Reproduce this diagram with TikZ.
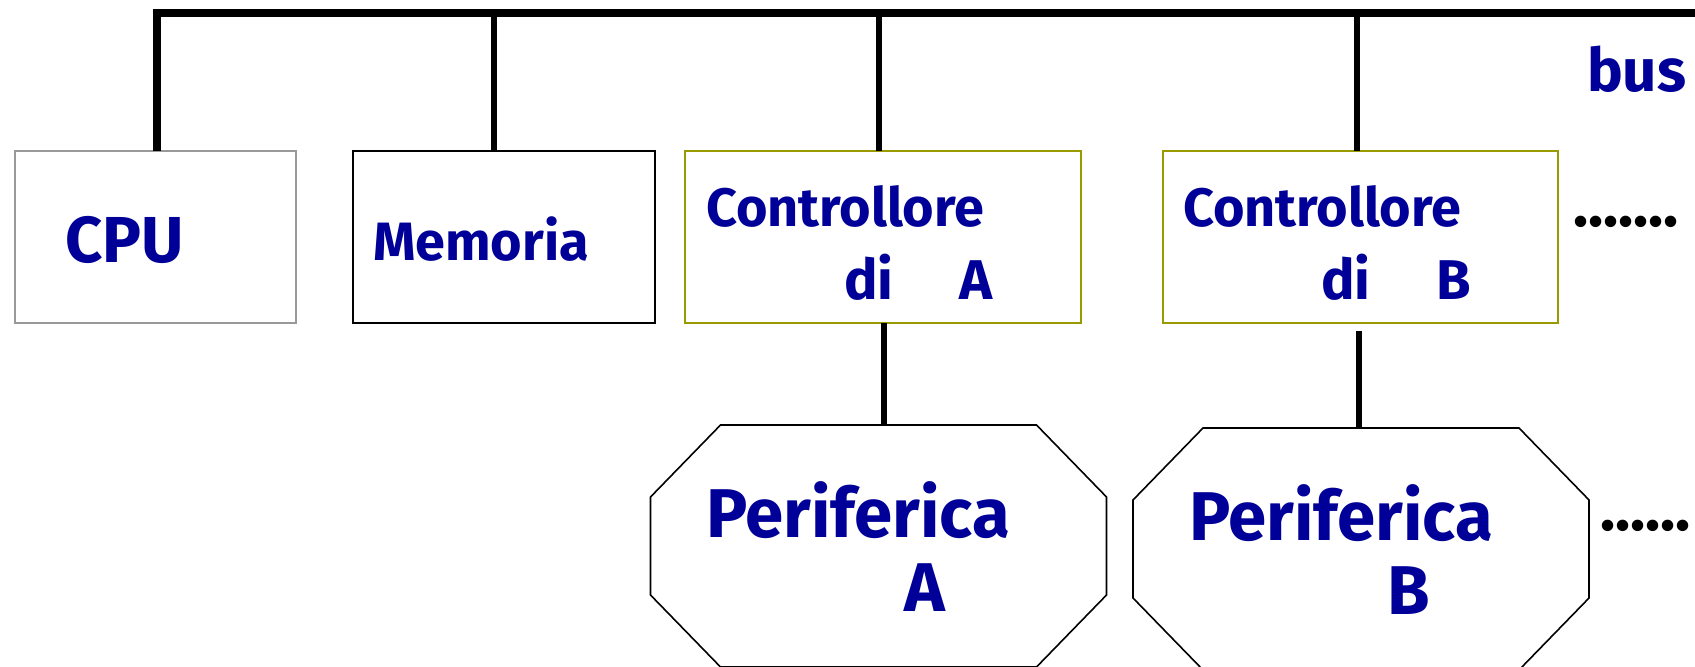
\documentclass[tikz,border=0pt]{standalone}
\usepackage{fontspec}
\setmainfont{Fira Sans}
\definecolor{txtblue}{HTML}{000099}
\definecolor{olivebox}{HTML}{999900}
\definecolor{graybox}{HTML}{999999}
\newcommand\octpath[1]{%
  \draw[octline] ([xshift=35pt]#1.north west) -- ([xshift=-35pt]#1.north east)
    -- ([yshift=-36pt]#1.north east) -- ([yshift=36pt]#1.south east)
    -- ([xshift=-35pt]#1.south east) -- ([xshift=35pt]#1.south west)
    -- ([yshift=36pt]#1.south west) -- ([yshift=-36pt]#1.north west) -- cycle;}
\begin{document}
\begin{tikzpicture}[x=0.5pt,y=0.5pt,
  box/.style={draw, line width=1pt, inner sep=0pt, outer sep=0pt, anchor=north west, minimum height=86pt},
  octarea/.style={inner sep=0pt, outer sep=0pt, minimum width=228pt, minimum height=121pt},
  octline/.style={draw=black, line width=0.8pt},
  busline/.style={line width=3.6pt, line join=miter},
  dropline/.style={line width=3.2pt},
  lbl/.style={text=txtblue, anchor=base west, inner sep=0pt, outer sep=0pt},
  dots/.style={text=black, anchor=base west, inner sep=0pt, outer sep=0pt, font=\fontsize{31.5pt}{32pt}\selectfont\bfseries}]
\useasboundingbox (0,0) rectangle (1695,-667);
% boxes
\node[box, draw=graybox, minimum width=140.5pt] (cpu) at (15,-151) {};
\node[box, draw=black, minimum width=151pt] (mem) at (353,-151) {};
\node[box, draw=olivebox, minimum width=198pt] (ctrlA) at (685,-151) {};
\node[box, draw=olivebox, minimum width=197.5pt] (ctrlB) at (1163,-151) {};
% peripherals
\node[octarea] (perA) at (878.5,-546) {};
\node[octarea] (perB) at (1361,-549) {};
\octpath{perA}
\octpath{perB}
% bus
\coordinate (busL) at (157,-13);
\coordinate (busR) at (1695,-13);
\draw[busline] (157,0 |- cpu.north) -- (busL) -- (busR);
\draw[dropline] (494,0 |- mem.north) -- (494,0 |- busL);
\draw[dropline] (879,0 |- ctrlA.north) -- (879,0 |- busL);
\draw[dropline] (1357,0 |- ctrlB.north) -- (1357,0 |- busL);
\draw[dropline] (884,0 |- ctrlA.south) -- (884,0 |- perA.north);
\draw[dropline, shorten <=4pt] (1359,0 |- ctrlB.south) -- (1359,0 |- perB.north);
% labels
\node[lbl, font=\fontsize{32.5pt}{34pt}\selectfont\bfseries] (tcpu) at (65,-263) {CPU};
\node[lbl, font=\fontsize{27pt}{28pt}\selectfont\bfseries] (tmem) at (373,-261) {Memoria};
\node[lbl, font=\fontsize{27pt}{28pt}\selectfont\bfseries] (tca1) at (706,-227) {Controllore};
\node[lbl, font=\fontsize{28pt}{28pt}\selectfont\bfseries] (tca2) at (844,-300) {di\hspace{33pt}A};
\node[lbl, font=\fontsize{27pt}{28pt}\selectfont\bfseries] (tcb1) at (1183,-227) {Controllore};
\node[lbl, font=\fontsize{28pt}{28pt}\selectfont\bfseries] (tcb2) at (1321,-300) {di\hspace{33pt}B};
\node[lbl, font=\fontsize{34.5pt}{36pt}\selectfont\bfseries] (tpa1) at (706,-537) {Periferica};
\node[lbl, font=\fontsize{34.5pt}{36pt}\selectfont\bfseries] (tpa2) at (904,-611) {A};
\node[lbl, font=\fontsize{34.5pt}{36pt}\selectfont\bfseries] (tpb1) at (1189,-540) {Periferica};
\node[lbl, font=\fontsize{34.5pt}{36pt}\selectfont\bfseries] (tpb2) at (1387,-614) {B};
\node[lbl, font=\fontsize{30pt}{32pt}\selectfont\bfseries] (tbus) at (1587,-92) {bus};
\node[dots] (dots1) at (1573,-227) {.......};
\node[dots] (dots2) at (1600,-530) {......};
\end{tikzpicture}
\end{document}
